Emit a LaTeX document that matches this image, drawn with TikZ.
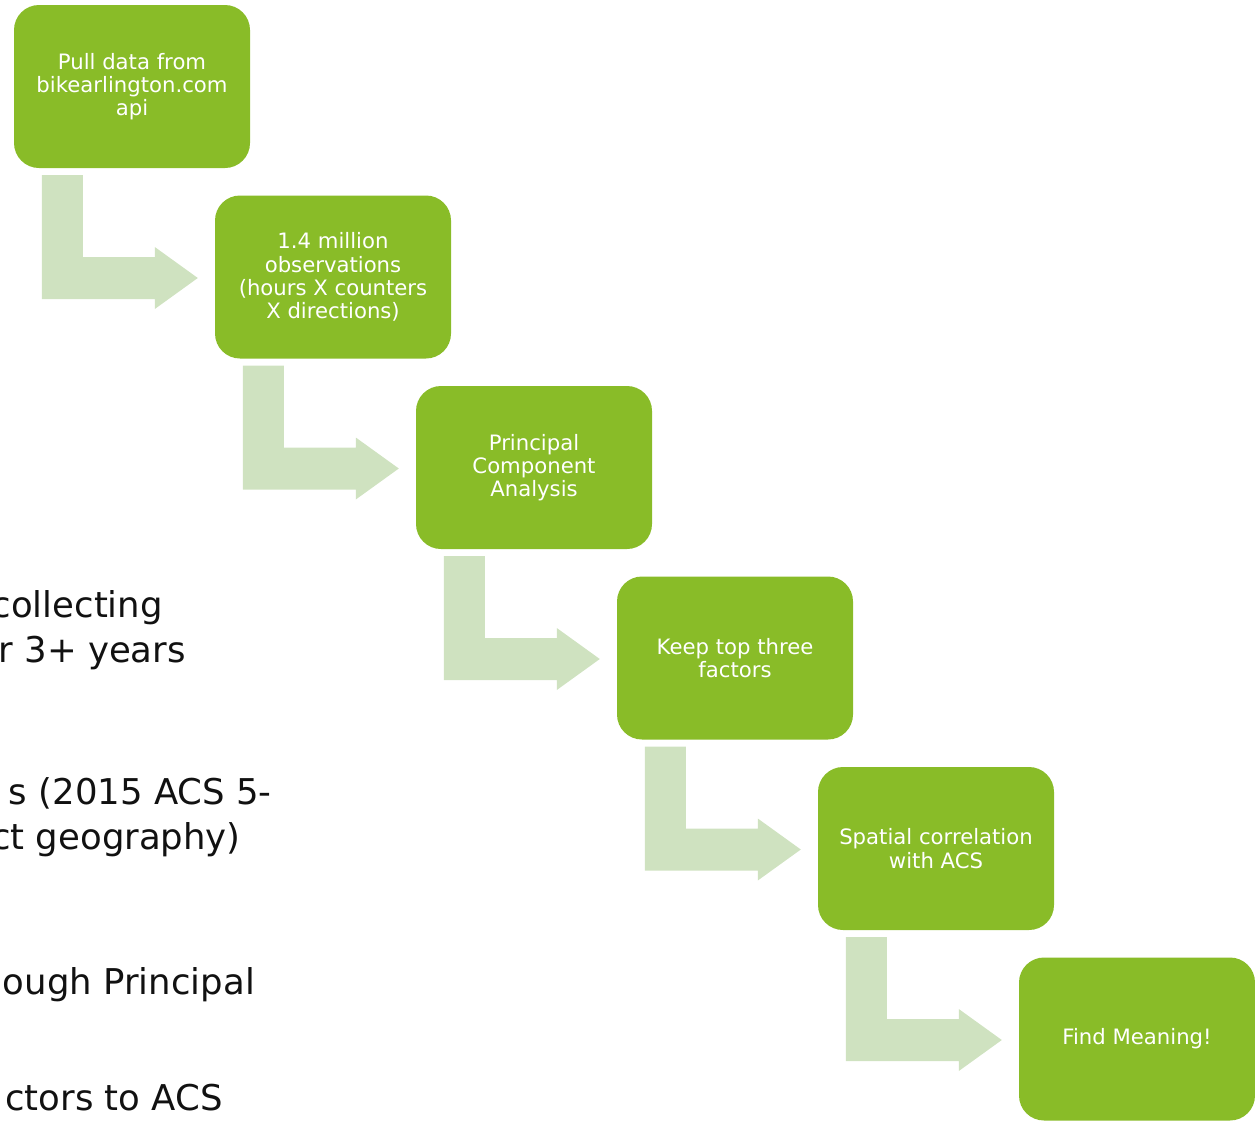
\documentclass[tikz,border=0pt]{standalone}
\usepackage{fontspec}
\setmainfont{DejaVu Sans}
\usetikzlibrary{calc}
\definecolor{boxgreen}{HTML}{89BC28}
\definecolor{arrowgreen}{HTML}{CFE2C0}
\definecolor{bodytext}{HTML}{111111}
\tikzset{
  stepbox/.style={rectangle, rounded corners=25pt, fill=boxgreen, draw=none,
    minimum width=236pt, minimum height=163pt, align=center,
    text=white, inner sep=0pt, font=\fontsize{21.2}{23.3}\selectfont},
  bodyline/.style={anchor=base east, inner sep=0pt, text=bodytext,
    font=\fontsize{35.5}{45}\selectfont},
  bentarrow/.style={fill=arrowgreen, draw=none}
}
\newcommand{\bentarr}[2]{%
  \path[bentarrow] let \p1=(#1.south west), \p2=(#2.west) in
    (\x1+28pt,\y1-7pt) -- (\x1+69pt,\y1-7pt) -- (\x1+69pt,\y2+20pt)
    -- (\x2-60pt,\y2+20pt) -- (\x2-60pt,\y2+30pt) -- (\x2-17pt,\y2-1pt)
    -- (\x2-60pt,\y2-32pt) -- (\x2-60pt,\y2-22pt) -- (\x1+28pt,\y2-22pt) -- cycle;}
\begin{document}
\begin{tikzpicture}[x=1pt,y=-1pt]
\useasboundingbox (0,0) rectangle (1255,1120);
% left body text (clipped by the page edge, as in the reference)
\node[bodyline] (t1) at (163,617) {collecting};
\node[bodyline] (t2) at (186,662) {r 3+ years};
\node[bodyline] (t3) at (272,804) {s (2015 ACS 5-};
\node[bodyline] (t4) at (241,849) {ct geography)};
\node[bodyline] (t5) at (255,994) {ough Principal};
\node[bodyline] (t6) at (223,1110) {ctors to ACS};
% steps
\node[stepbox] (s1) at (132,86.5) {Pull data from\\bikearlington.com\\api};
\node[stepbox] (s2) at (333,277) {1.4 million\\observations\\(hours X counters\\X directions)};
\node[stepbox] (s3) at (534,467.5) {Principal\\Component\\Analysis};
\node[stepbox] (s4) at (735,658) {Keep top three\\factors};
\node[stepbox] (s5) at (936,848.5) {Spatial correlation\\with ACS};
\node[stepbox] (s6) at (1137,1039) {Find Meaning!};
% bent arrows
\bentarr{s1}{s2}
\bentarr{s2}{s3}
\bentarr{s3}{s4}
\bentarr{s4}{s5}
\bentarr{s5}{s6}
\end{tikzpicture}
\end{document}
